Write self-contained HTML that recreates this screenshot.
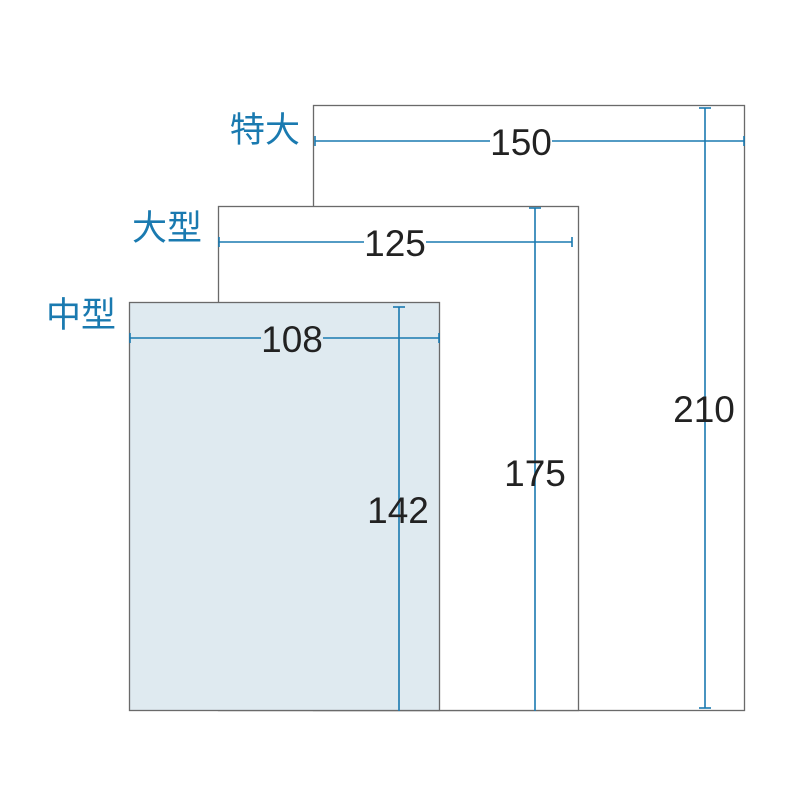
<!DOCTYPE html>
<html><head><meta charset="utf-8"><style>body{margin:0;background:#fff}</style></head>
<body>
<svg width="800" height="800" xmlns="http://www.w3.org/2000/svg" style="display:block">
<rect x="0" y="0" width="800" height="800" fill="#fff"/>
<g fill="none" stroke="#6a6a6a" stroke-width="1.3">
<rect x="313.5" y="105.5" width="431" height="605" fill="#fff"/>
<rect x="218.5" y="206.5" width="360" height="504" fill="#fff"/>
<rect x="129.5" y="302.5" width="310" height="408" fill="#dfeaf0"/>
</g>
<g stroke="#1a7ab0" stroke-width="1.6" fill="none">
<line x1="315" y1="141" x2="744" y2="141"/><line x1="315" y1="136" x2="315" y2="146"/><line x1="744" y1="136" x2="744" y2="146"/>
<line x1="219" y1="242" x2="572" y2="242"/><line x1="219" y1="237" x2="219" y2="247"/><line x1="572" y1="237" x2="572" y2="247"/>
<line x1="130" y1="338" x2="439" y2="338"/><line x1="130" y1="333" x2="130" y2="343"/><line x1="439" y1="333" x2="439" y2="343"/>
<line x1="399" y1="307" x2="399" y2="711"/><line x1="393" y1="307" x2="405" y2="307"/>
<line x1="535" y1="208" x2="535" y2="711"/><line x1="529" y1="208" x2="541" y2="208"/>
<line x1="705" y1="108" x2="705" y2="708"/><line x1="699" y1="108" x2="711" y2="108"/><line x1="699" y1="708" x2="711" y2="708"/>
</g>
<rect x="490" y="125" width="62" height="34" fill="#fff"/>
<rect x="364" y="226" width="62" height="34" fill="#fff"/>
<rect x="261" y="322" width="62" height="34" fill="#dfeaf0"/>
<g font-family="'Liberation Sans', sans-serif" font-size="37" fill="#222" text-anchor="middle">
<text x="521" y="155">150</text>
<text x="395" y="256">125</text>
<text x="292" y="352">108</text>
<text x="704" y="422">210</text>
<text x="535" y="486">175</text>
<text x="398" y="523">142</text>
</g>
<g font-family="'Liberation Sans','Noto Sans CJK JP',sans-serif" font-size="35" fill="#1a7ab0">
<text x="230" y="142">特大</text>
<text x="132" y="240">大型</text>
<text x="46" y="327">中型</text>
</g>
</svg>
</body></html>
